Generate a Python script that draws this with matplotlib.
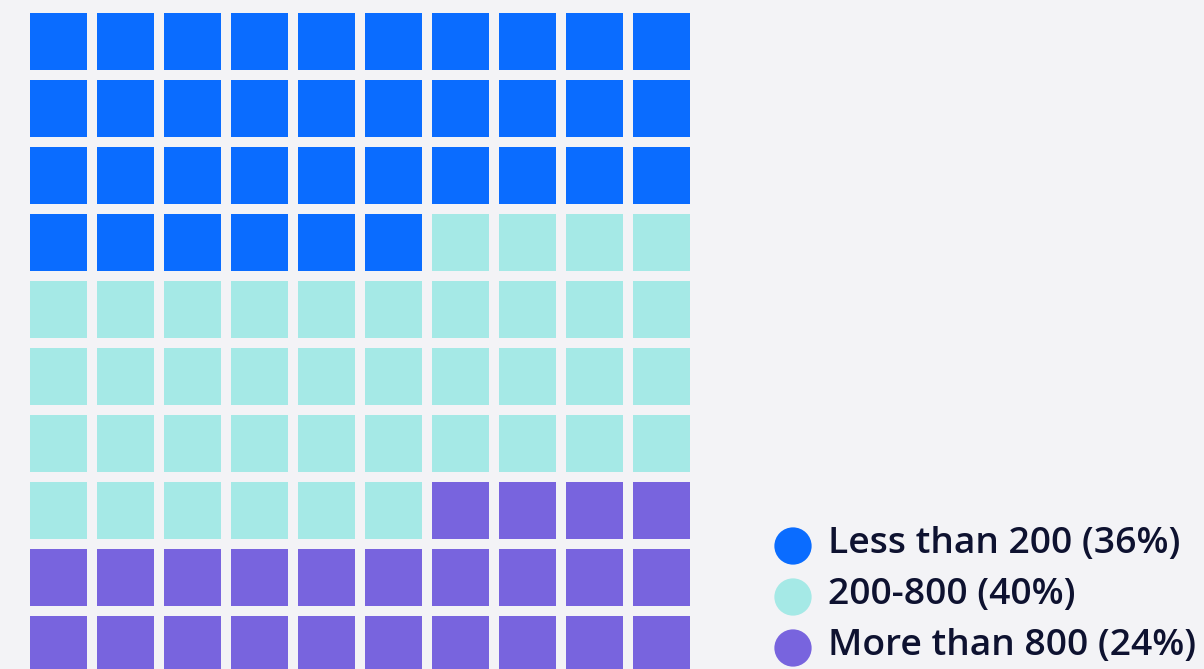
import matplotlib.pyplot as plt
from matplotlib.patches import Rectangle

# data
labels = ['Less than 200', '200-800', 'More than 800']
percents = [36, 40, 24]
colors = ['#0a6cff', '#a5e9e6', '#7864de']

BG = '#f3f3f6'
TEXT = '#0e1230'

# layout in pixels
W, H = 1204, 669
n_cols = 10
x0, y0 = 30, 13
cell = 57
pitch = 67

fig = plt.figure(figsize=(W / 100, H / 100), dpi=100)
fig.patch.set_facecolor(BG)
ax = fig.add_axes([0, 0, 1, 1])
ax.set_facecolor(BG)
ax.set_xlim(0, W)
ax.set_ylim(H, 0)
ax.axis('off')

# build waffle cells, row-major from top-left
cell_colors = []
for c, p in zip(colors, percents):
    cell_colors += [c] * p

for i, c in enumerate(cell_colors):
    row, col = divmod(i, n_cols)
    ax.add_patch(Rectangle((x0 + col * pitch, y0 + row * pitch), cell, cell,
                           facecolor=c, edgecolor='none'))

# legend
lx, ly, lstep = 793, 546, 51
for k, (lab, p, c) in enumerate(zip(labels, percents, colors)):
    y = ly + k * lstep
    ax.scatter([lx], [y], s=720, color=c, edgecolors='none', zorder=3)
    ax.text(lx + 35, y + 7, f'{lab} ({p}%)', fontsize=26.8, color=TEXT,
            va='baseline', ha='left', fontweight='semibold',
            family=['Open Sans', 'DejaVu Sans'])

fig.savefig('out.png', dpi=100, facecolor=BG)
